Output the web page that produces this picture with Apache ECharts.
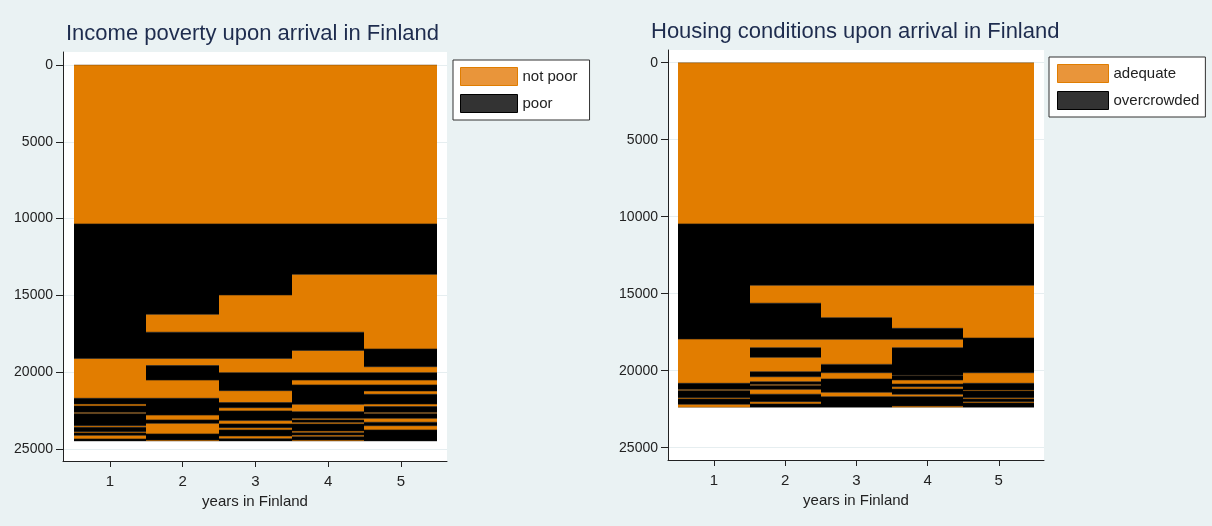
<!DOCTYPE html>
<html>
<head>
<meta charset="utf-8">
<script src="https://cdn.jsdelivr.net/npm/echarts@6/dist/echarts.min.js"></script>
<style>
  html, body { margin: 0; padding: 0; background: #EAF2F3; }
  #chart { width: 1212px; height: 526px; }
</style>
</head>
<body>
<div id="chart"></div>
<script>
// ---- data ----
const years = [1, 2, 3, 4, 5];
const yTicks = [0, 5000, 10000, 15000, 20000, 25000];
const incomeStates = ['not poor', 'poor'];
const housingStates = ['adequate', 'overcrowded'];

// Sequence-index break points per year (sorted sequences, cumulative count).
// Segments alternate between the two states, starting with the first state.
const incomeY1 = [0, 10350, 19100, 21700, 22070, 22200, 22610, 22700, 23480, 23590, 23870, 23960, 24110, 24350, 24480];
const incomeY2 = [0, 10350, 16230, 17400, 19100, 19570, 20510, 21700, 22790, 23110, 23330, 24020, 24410, 24480];
const incomeY3 = [0, 10350, 14970, 17400, 19100, 20030, 21200, 21980, 22310, 22520, 23150, 23370, 23610, 23760, 24150, 24330, 24480];
const incomeY4 = [0, 10350, 13630, 17400, 18580, 20030, 20510, 20830, 22090, 22570, 23000, 23110, 23260, 23370, 23830, 23940, 24090, 24200, 24410, 24480];
const incomeY5 = [0, 10350, 13630, 18490, 19640, 20030, 20510, 20830, 21220, 21440, 22070, 22240, 22610, 22700, 23000, 23260, 23480, 23760, 24480];

const housingY1 = [0, 10470, 17940, 20820, 21210, 21300, 21750, 21840, 22180, 22380];
const housingY2 = [0, 10470, 14450, 15620, 17960, 18510, 19130, 20070, 20390, 20720, 20880, 20970, 21210, 21530, 22010, 22160, 22380];
const housingY3 = [0, 10470, 14450, 16560, 17960, 19590, 20130, 20540, 21400, 21690, 22380];
const housingY4 = [0, 10470, 14450, 17250, 17960, 18510, 20290, 20330, 20600, 20870, 21040, 21190, 21530, 21690, 22290, 22380];
const housingY5 = [0, 10470, 14450, 17880, 20130, 20820, 21250, 21320, 21750, 21840, 22010, 22100, 22380];

const incomeBreaks = [incomeY1, incomeY2, incomeY3, incomeY4, incomeY5];
const housingBreaks = [housingY1, housingY2, housingY3, housingY4, housingY5];

// ---- styling ----
const ORANGE = '#E27D00';
const BLACK = '#000000';
const FONT = 'Liberation Sans, Arial, sans-serif';

function segments(breaksPerYear, stateIndex) {
  const out = [];
  breaksPerYear.forEach((br, yi) => {
    for (let i = 0; i < br.length - 1; i++) {
      if (i % 2 === stateIndex) out.push([years[yi], br[i], br[i + 1]]);
    }
  });
  return out;
}

function seqSeries(name, breaks, stateIndex, gridIndex, color) {
  return {
    type: 'custom',
    name: name,
    xAxisIndex: gridIndex,
    yAxisIndex: gridIndex,
    itemStyle: { color: color },
    encode: { x: 0, y: [1, 2] },
    data: segments(breaks, stateIndex),
    renderItem: function (params, api) {
      const x = api.value(0), s = api.value(1), e = api.value(2);
      const p0 = api.coord([x - 0.5, s]);
      const p1 = api.coord([x + 0.5, e]);
      const xa = Math.round(p0[0]), xb = Math.round(p1[0]);
      const edge = stateIndex === 0 ? 'rgba(80,45,0,0.6)' : 'rgba(30,30,30,0.6)';
      return {
        type: 'group',
        children: [
          { type: 'rect',
            shape: { x: xa, y: p0[1], width: xb - xa, height: p1[1] - p0[1] },
            style: { fill: color } },
          { type: 'line',
            shape: { x1: xa, y1: p0[1], x2: xb, y2: p0[1] },
            style: { stroke: edge, lineWidth: 0.7 } },
          { type: 'line',
            shape: { x1: xa, y1: p1[1], x2: xb, y2: p1[1] },
            style: { stroke: edge, lineWidth: 0.7 } }
        ]
      };
    }
  };
}

function xAxis(gridIndex) {
  return {
    type: 'value', gridIndex: gridIndex, min: 0.354, max: 5.635,
    name: 'years in Finland', nameLocation: 'middle', nameGap: 31,
    nameTextStyle: { fontSize: 15, color: '#222', fontFamily: FONT },
    axisLine: { show: true, onZero: false, lineStyle: { color: '#222', width: 1 } },
    axisTick: { show: true, length: 6, customValues: years, lineStyle: { color: '#222' } },
    axisLabel: { customValues: years, fontSize: 15, color: '#222', margin: 13, fontFamily: FONT,
                 formatter: v => String(v) },
    splitLine: { show: false }
  };
}

function yAxis(gridIndex, min, max) {
  return {
    type: 'value', gridIndex: gridIndex, inverse: true, min: min, max: max,
    axisLine: { show: true, onZero: false, lineStyle: { color: '#222', width: 1 } },
    axisTick: { show: true, length: 7, customValues: yTicks, lineStyle: { color: '#222' } },
    axisLabel: { customValues: yTicks, fontSize: 14, color: '#222', margin: 10, fontFamily: FONT,
                 formatter: v => String(v) },
    splitLine: { show: true, lineStyle: { color: '#E6EEF0', width: 1 } }
  };
}

const chart = echarts.init(document.getElementById('chart'), null, { renderer: 'canvas' });
chart.setOption({
  backgroundColor: '#EAF2F3',
  animation: false,
  title: [
    { text: 'Income poverty upon arrival in Finland', left: 66, top: 23, padding: 0,
      textStyle: { fontSize: 22, fontWeight: 'normal', color: '#1e2c4e', fontFamily: FONT } },
    { text: 'Housing conditions upon arrival in Finland', left: 651, top: 21, padding: 0,
      textStyle: { fontSize: 22, fontWeight: 'normal', color: '#1e2c4e', fontFamily: FONT } }
  ],
  legend: [
    { orient: 'vertical', left: 453, top: 60, padding: [7, 12, 7, 7], itemGap: 8,
      itemWidth: 57, itemHeight: 18, backgroundColor: '#fff', borderColor: '#333', borderWidth: 1,
      textStyle: { fontSize: 15, color: '#222', fontFamily: FONT },
      data: [
        { name: incomeStates[0], icon: 'rect', itemStyle: { color: '#E9953A', borderColor: '#E07D00', borderWidth: 1 } },
        { name: incomeStates[1], icon: 'rect', itemStyle: { color: '#333333', borderColor: '#000', borderWidth: 1 } }
      ] },
    { orient: 'vertical', left: 1049, top: 57, padding: [7, 6, 7, 8], itemGap: 8,
      itemWidth: 51, itemHeight: 18, backgroundColor: '#fff', borderColor: '#333', borderWidth: 1,
      textStyle: { fontSize: 15, color: '#222', fontFamily: FONT },
      data: [
        { name: housingStates[0], icon: 'rect', itemStyle: { color: '#E9953A', borderColor: '#E07D00', borderWidth: 1 } },
        { name: housingStates[1], icon: 'rect', itemStyle: { color: '#333333', borderColor: '#000', borderWidth: 1 } }
      ] }
  ],
  grid: [
    { left: 63, top: 52, width: 384, height: 409, show: true, backgroundColor: '#fff', borderWidth: 0 },
    { left: 668, top: 50, width: 376, height: 410, show: true, backgroundColor: '#fff', borderWidth: 0 }
  ],
  xAxis: [xAxis(0), xAxis(1)],
  yAxis: [yAxis(0, -846, 25781), yAxis(1, -825, 25799)],
  series: [
    seqSeries(incomeStates[0], incomeBreaks, 0, 0, ORANGE),
    seqSeries(incomeStates[1], incomeBreaks, 1, 0, BLACK),
    seqSeries(housingStates[0], housingBreaks, 0, 1, ORANGE),
    seqSeries(housingStates[1], housingBreaks, 1, 1, BLACK)
  ]
});
</script>
</body>
</html>
